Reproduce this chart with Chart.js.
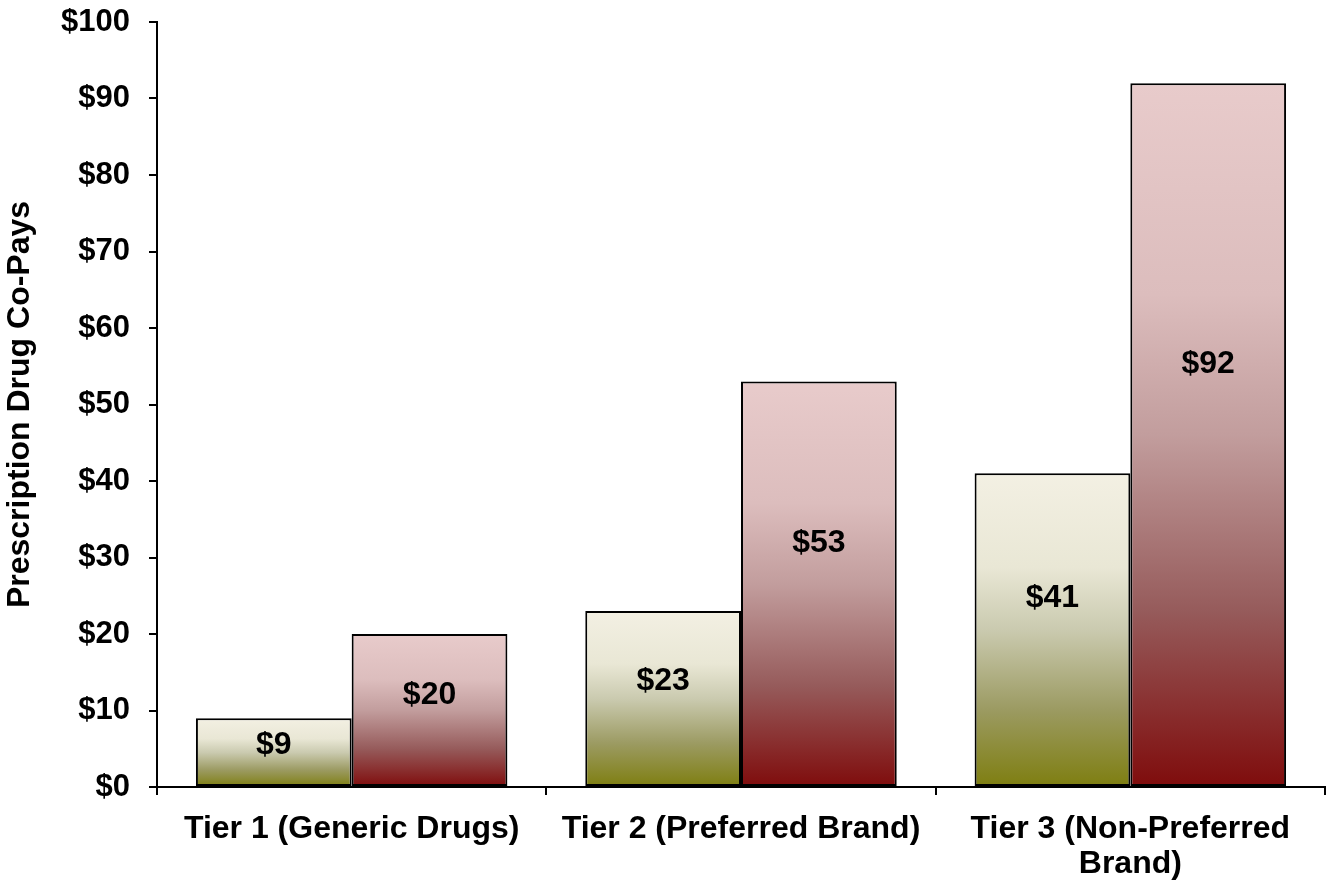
<!DOCTYPE html>
<html>
<head>
  <meta charset="UTF-8">
  <title>Prescription Drug Co-Pays</title>
  <script src="https://cdn.jsdelivr.net/npm/chart.js"></script>
  <style>
    body {
      margin: 0;
      background-color: #ffffff;
    }
    canvas {
      display: block;
    }
  </style>
</head>
<body>

  <canvas id="barChart" width="1328" height="882"></canvas>

  <script>
    const tiers = [
      'Tier 1 (Generic Drugs)',
      'Tier 2 (Preferred Brand)',
      ['Tier 3 (Non-Preferred', 'Brand)']
    ];
    const lowerCopays = [9, 23, 41];
    const higherCopays = [20, 53, 92];
    const yTicks = [0, 10, 20, 30, 40, 50, 60, 70, 80, 90, 100];

    const FONT = "'Liberation Sans', Arial, sans-serif";

    // vertical gradient per bar, light on top, dark at the base
    function barGradient(stops) {
      return function (c) {
        const chart = c.chart;
        const y = chart.scales.y;
        if (!y || c.raw === undefined) return stops[stops.length - 1][1];
        const top = y.getPixelForValue(c.raw);
        const base = y.getPixelForValue(0);
        if (!isFinite(top) || !isFinite(base) || top === base) return stops[0][1];
        const g = chart.ctx.createLinearGradient(0, top, 0, base);
        stops.forEach(s => g.addColorStop(s[0], s[1]));
        return g;
      };
    }

    const oliveStops = [[0, '#f3f0e3'], [0.3, '#e9e7d5'], [0.5, '#cacaaf'], [0.75, '#9c9b63'], [1, '#7e7e10']];
    const redStops = [[0, '#e8cbcb'], [0.3, '#dcbdbd'], [0.5, '#c29d9d'], [0.75, '#965b5b'], [1, '#7f0c0c']];

    const valueLabels = {
      id: 'valueLabels',
      afterDatasetsDraw(chart) {
        const ctx = chart.ctx;
        ctx.save();
        ctx.font = 'bold 32px ' + FONT;
        ctx.fillStyle = '#000';
        ctx.textAlign = 'center';
        ctx.textBaseline = 'middle';
        chart.data.datasets.forEach((ds, i) => {
          chart.getDatasetMeta(i).data.forEach((bar, j) => {
            const y = bar.base + (bar.y - bar.base) * 0.6;
            ctx.fillText('$' + ds.data[j], bar.x, y);
          });
        });
        ctx.restore();
      }
    };

    const ctx = document.getElementById('barChart').getContext('2d');

    const chart = new Chart(ctx, {
      type: 'bar',
      data: {
        labels: tiers,
        datasets: [{
          label: 'Lower',
          data: lowerCopays,
          backgroundColor: barGradient(oliveStops),
          borderColor: '#000',
          borderWidth: 2,
          borderSkipped: false
        }, {
          label: 'Higher',
          data: higherCopays,
          backgroundColor: barGradient(redStops),
          borderColor: '#000',
          borderWidth: 2,
          borderSkipped: false
        }]
      },
      options: {
        responsive: false,
        animation: false,
        categoryPercentage: 0.8,
        barPercentage: 1.0,
        layout: {
          padding: { top: 22, right: 3, left: 0, bottom: 0 }
        },
        scales: {
          x: {
            grid: {
              display: true,
              drawOnChartArea: false,
              drawTicks: true,
              tickLength: 8,
              color: '#000',
              lineWidth: 2
            },
            border: { display: true, color: '#000', width: 2 },
            ticks: {
              color: '#000',
              padding: 17,
              maxRotation: 0,
              autoSkip: false,
              font: { family: FONT, size: 32, weight: 'bold', lineHeight: 1.08 }
            },
            afterFit(scale) { scale.height = 95; }
          },
          y: {
            min: 0,
            max: 100,
            afterBuildTicks(scale) {
              scale.ticks = yTicks.map(v => ({ value: v }));
            },
            grid: {
              display: true,
              drawOnChartArea: false,
              drawTicks: true,
              tickLength: 8,
              color: '#000',
              lineWidth: 2
            },
            border: { display: true, color: '#000', width: 2 },
            ticks: {
              color: '#000',
              padding: 19,
              callback: v => '$' + v,
              font: { family: FONT, size: 31, weight: 'bold' }
            },
            title: {
              display: true,
              text: 'Prescription Drug Co-Pays',
              color: '#000',
              font: { family: FONT, size: 32, weight: 'bold', lineHeight: 1.1 },
              padding: { top: 3, bottom: 4 }
            },
            afterFit(scale) {
              scale.width = 157;
              scale.paddingTop = 0;
              scale.paddingBottom = 0;
            }
          }
        },
        plugins: {
          legend: { display: false },
          tooltip: { enabled: false }
        }
      },
      plugins: [valueLabels]
    });
  </script>

</body>
</html>
